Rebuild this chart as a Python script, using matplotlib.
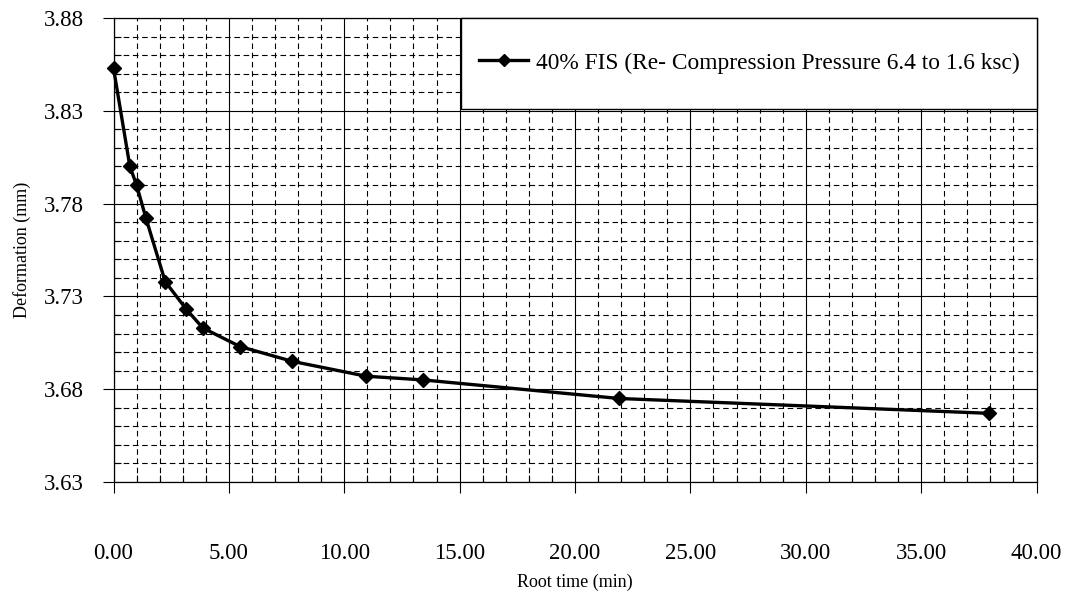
import matplotlib
matplotlib.use("Agg")
import matplotlib.pyplot as plt
from matplotlib.ticker import FixedLocator, FormatStrFormatter
from matplotlib.patches import Rectangle

# Root time (sqrt of minutes) and deformation readings
root_time = [0.00, 0.71, 1.00, 1.41, 2.24, 3.16, 3.87, 5.48, 7.75, 10.95, 13.42, 21.91, 37.95]
deformation = [3.853, 3.800, 3.790, 3.772, 3.738, 3.723, 3.713, 3.703, 3.695, 3.687, 3.685, 3.675, 3.667]
series_label = "40% FIS (Re- Compression Pressure 6.4 to 1.6 ksc)"

x_major = [0, 5, 10, 15, 20, 25, 30, 35, 40]
x_minor = [v for v in range(0, 41)]
y_major = [3.63, 3.68, 3.73, 3.78, 3.83, 3.88]
y_minor = [round(3.63 + 0.01 * k, 2) for k in range(26)]

plt.rcParams["font.family"] = ["Liberation Serif", "DejaVu Serif"]

fig = plt.figure(figsize=(10.67, 5.94), dpi=100)
ax = fig.add_axes([113.5 / 1067, 1 - 482 / 594, 923 / 1067, 464 / 594])

ax.set_xlim(0, 40)
ax.set_ylim(3.63, 3.88)
ax.xaxis.set_major_locator(FixedLocator(x_major))
ax.xaxis.set_minor_locator(FixedLocator(x_minor))
ax.yaxis.set_major_locator(FixedLocator(y_major))
ax.yaxis.set_minor_locator(FixedLocator(y_minor))
ax.xaxis.set_major_formatter(FormatStrFormatter("%.2f"))
ax.yaxis.set_major_formatter(FormatStrFormatter("%.2f"))

ax.grid(which="major", color="black", linewidth=0.8, linestyle="-")
ax.grid(which="minor", color="black", linewidth=0.8, linestyle=(0, (5, 3.3)))
ax.set_axisbelow(True)

ax.tick_params(axis="both", which="major", direction="out", length=8,
               width=0.8, labelsize=16.5)
ax.tick_params(axis="x", which="major", pad=36)
ax.tick_params(axis="y", which="major", pad=13.5)
ax.tick_params(axis="both", which="minor", direction="in", length=5, width=0.8)

for s in ax.spines.values():
    s.set_linewidth(0.9)
    s.set_color("black")

line, = ax.plot(root_time, deformation, color="black", linewidth=2.4,
                marker="D", markersize=7, markerfacecolor="black",
                markeredgecolor="black", clip_on=False, zorder=5,
                label=series_label)

ax.set_xlabel("Root time (min)", fontsize=13, labelpad=7)
ax.set_ylabel("Deformation (mm)", fontsize=13, labelpad=9)

# Legend box in the top-right corner of the plot area
box = Rectangle((0.3765, 0.804), 1 - 0.3765, 1 - 0.804, transform=ax.transAxes,
                facecolor="white", edgecolor="black", linewidth=1.0, zorder=6,
                clip_on=False)
ax.add_patch(box)
leg = ax.legend(handles=[line], loc="center left",
                bbox_to_anchor=((479 - 113.5) / 923, (482 - 63) / 464),
                frameon=False, borderpad=0, borderaxespad=0,
                handlelength=2.1, handletextpad=0.34, fontsize=16.8,
                markerscale=0.85)
leg.set_zorder(7)

fig.savefig("out.png", dpi=100)
